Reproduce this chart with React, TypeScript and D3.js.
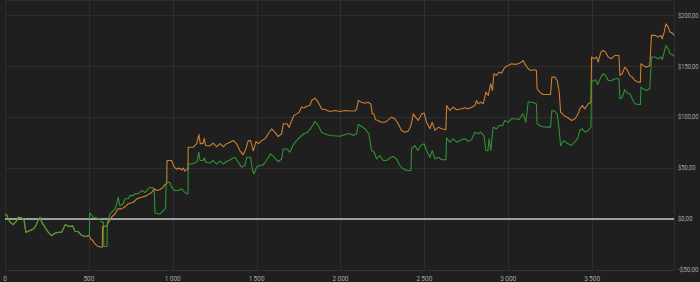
import React from "react";
import * as d3 from "d3";

// Shared start (both series identical)
const sharedSteps = [0, 10, 20, 30, 49, 70, 79, 100, 113, 125, 149, 169, 185, 198, 209, 219, 238, 258, 278, 298, 318, 338, 358, 387, 404, 417, 437, 457, 483, 502];
const sharedValues = [4.4, 4, 0, -3, -5.4, -1.5, 1.8, 1.2, -0.8, -13, -11.3, -9.7, -6.4, -0.8, 1.8, -3, -8, -13, -16.2, -14, -13, -13, -5.7, -7.4, -6.7, -12, -12.3, -16.2, -17.2, -16.2];

const orangeSteps = [504, 511, 523, 536, 556, 576, 580, 582, 606, 614, 636, 656, 673, 695, 715, 735, 765, 785, 815, 845, 874, 890, 906, 924, 942, 954, 964, 966, 993, 1009, 1023, 1043, 1053, 1063, 1073, 1087, 1091, 1092, 1122, 1143, 1156, 1164, 1180, 1188, 1196, 1222, 1241, 1261, 1281, 1301, 1321, 1341, 1361, 1381, 1401, 1420, 1436, 1450, 1464, 1480, 1496, 1511, 1530, 1550, 1570, 1590, 1609, 1629, 1649, 1659, 1681, 1694, 1709, 1722, 1738, 1754, 1768, 1782, 1802, 1818, 1828, 1848, 1867, 1888, 1907, 1937, 1967, 1997, 2026, 2056, 2086, 2096, 2106, 2126, 2146, 2165, 2181, 2189, 2199, 2209, 2225, 2241, 2265, 2285, 2305, 2324, 2344, 2364, 2384, 2404, 2420, 2434, 2448, 2464, 2484, 2499, 2513, 2533, 2547, 2563, 2583, 2603, 2628, 2633, 2652, 2672, 2692, 2722, 2742, 2761, 2781, 2801, 2811, 2821, 2835, 2851, 2867, 2881, 2895, 2906, 2914, 2930, 2946, 2960, 2974, 2986, 3000, 3020, 3040, 3059, 3079, 3089, 3105, 3119, 3133, 3149, 3168, 3172, 3188, 3208, 3252, 3260, 3278, 3292, 3304, 3312, 3332, 3351, 3378, 3398, 3417, 3427, 3441, 3457, 3477, 3493, 3497, 3512, 3527, 3536, 3552, 3566, 3580, 3596, 3616, 3636, 3660, 3666, 3679, 3695, 3711, 3725, 3739, 3755, 3775, 3788, 3791, 3804, 3824, 3844, 3854, 3874, 3894, 3910, 3918, 3930, 3940, 3954, 3964, 3978, 3990];
const orangeValues = [-17, -19.5, -21, -24.4, -27, -27.7, -27.7, -7, -7, -4, 2, 5, 10, 10, 12, 15, 16.5, 19.8, 21.4, 23, 26, 29.6, 28, 29, 31, 34, 34.6, 57.5, 57.5, 51, 49, 50, 48, 50, 47, 49, 49, 70.5, 70.5, 74, 83, 74, 74, 79, 72, 72, 74.5, 71, 74, 71, 74, 75.5, 77, 74, 67, 63, 69, 77, 77, 67, 76, 74, 77, 78.8, 83.7, 88.6, 85, 81, 83.7, 93.5, 93.5, 90, 96.8, 101.7, 103, 105, 110, 109, 111, 111.5, 116.4, 118.7, 114.7, 108, 107.6, 105.6, 106.6, 105.6, 106.6, 106, 106, 108, 116.4, 114.7, 113.7, 114.7, 113, 103.3, 103.3, 97.4, 96.8, 95, 95, 97.4, 100, 98.4, 93.5, 87, 85.3, 86.3, 91.9, 103.3, 100, 96.8, 103.3, 104, 95, 88.6, 95, 87, 90, 88.6, 87.6, 111.5, 106.6, 109.8, 107.3, 108.3, 109.2, 108.3, 109.8, 111.5, 116.4, 113.2, 114.7, 113.2, 124.6, 121.3, 132.8, 126.2, 142.6, 141, 144.2, 143.2, 147.5, 149.8, 150.8, 152.5, 151.8, 152.5, 154, 155.7, 150.8, 147.5, 145.9, 146.5, 146, 127.9, 124.6, 122.3, 122.3, 139.3, 139.3, 136, 124.6, 104.9, 101.7, 100, 96.8, 98.4, 103.3, 108.2, 111.5, 108.2, 113.2, 114.7, 159, 157.4, 159, 154, 163.8, 165.5, 163.8, 159, 157.4, 160.6, 160.6, 141, 142.6, 149.1, 145.9, 141, 139.3, 136, 134.4, 134.4, 152.5, 150.8, 149.1, 150.8, 180.3, 180.3, 178.6, 180.3, 177, 183.5, 191.7, 188.4, 183.5, 182.5, 180.3];

const greenSteps = [503, 505, 526, 566, 576, 587, 589, 608, 610, 626, 656, 666, 675, 685, 705, 715, 735, 745, 765, 775, 795, 815, 834, 854, 864, 884, 890, 894, 924, 948, 957, 961, 983, 993, 1013, 1033, 1053, 1073, 1083, 1091, 1092, 1113, 1143, 1156, 1162, 1180, 1188, 1196, 1222, 1241, 1261, 1281, 1301, 1321, 1341, 1361, 1371, 1391, 1411, 1430, 1441, 1464, 1476, 1484, 1500, 1520, 1539, 1559, 1583, 1603, 1629, 1649, 1659, 1681, 1699, 1718, 1738, 1758, 1782, 1802, 1818, 1834, 1848, 1867, 1888, 1907, 1937, 1997, 2026, 2040, 2056, 2076, 2096, 2106, 2126, 2146, 2169, 2185, 2201, 2215, 2235, 2255, 2275, 2295, 2314, 2334, 2354, 2374, 2394, 2420, 2424, 2444, 2460, 2479, 2499, 2513, 2533, 2547, 2563, 2583, 2603, 2628, 2633, 2652, 2672, 2692, 2722, 2742, 2761, 2781, 2801, 2821, 2835, 2855, 2867, 2879, 2886, 2896, 2910, 2930, 2946, 2966, 2980, 3000, 3020, 3046, 3065, 3079, 3089, 3105, 3119, 3153, 3168, 3172, 3198, 3228, 3252, 3260, 3278, 3292, 3304, 3312, 3332, 3351, 3378, 3398, 3413, 3427, 3441, 3457, 3477, 3493, 3497, 3506, 3521, 3533, 3552, 3566, 3580, 3596, 3616, 3636, 3660, 3666, 3679, 3695, 3711, 3725, 3739, 3755, 3775, 3788, 3791, 3804, 3824, 3844, 3854, 3874, 3894, 3910, 3918, 3930, 3940, 3954, 3964, 3978, 3990];
const greenValues = [-16.2, 6, 1.8, 0.2, -3, -3, -27, -27, -3, 5, 10, 15, 21.3, 13, 15, 20, 20, 23, 23, 25, 25, 28, 26, 29.6, 31, 30.6, 28, 6, 5, 9, 11, 36, 36, 31, 28, 28, 29.6, 26, 24.8, 25, 54, 54, 56, 65.6, 57.5, 57.5, 60, 56, 55, 57.5, 54, 56.8, 54, 56.5, 58, 60, 60.7, 55.8, 51, 52.5, 60.7, 60.7, 47.6, 44.4, 51, 52.5, 53.2, 57.5, 64, 60.7, 56.5, 59, 68.8, 68.8, 65.6, 72.9, 77, 80.3, 83.7, 85, 88, 91.8, 95.8, 91.8, 85, 83.7, 82, 81.3, 82.7, 83.7, 83.7, 82, 83.7, 92.8, 90.9, 88.6, 83.7, 67.3, 65.6, 59, 62.4, 57.5, 57.5, 60.1, 61.4, 59, 52.5, 49.3, 47.6, 47.6, 69, 72.2, 67.3, 72.2, 73.9, 67.3, 60.7, 67.3, 59, 60.7, 58.2, 58.2, 79.8, 75.4, 78.8, 75.4, 77.8, 78.8, 76.4, 77.8, 85.3, 83.7, 85.3, 82, 67.3, 67.3, 78.8, 67.3, 90.2, 88.6, 91.8, 91.8, 96.8, 95, 98.4, 98.4, 97.4, 101.7, 103.3, 95, 115.1, 114.1, 113, 93.5, 90.9, 90.2, 90.2, 106.6, 105.9, 103.3, 87, 72.2, 77, 74.5, 72.2, 76, 79, 86.9, 88.6, 85.3, 86.9, 90.2, 136, 135.4, 136.7, 132.1, 139.3, 142.6, 141, 136, 136, 137.7, 137.7, 118.1, 119.6, 126.9, 123.6, 123, 118.1, 113.2, 112.5, 112.5, 129.5, 127.9, 126.2, 127.9, 159, 159, 157.4, 159, 156.4, 163.8, 170.4, 167.1, 162.2, 161.6, 159.6];

const xTicks = [0, 500, 1000, 1500, 2000, 2500, 3000, 3500];
const yTicks = [-50, 0, 50, 100, 150, 200];

const W = 700;
const H = 282;

export default function App() {
  const x = d3.scaleLinear().domain([0, 3990]).range([5, 674.3]);
  const y = d3.scaleLinear().domain([-50, 200]).range([270, 15.3]);

  const mk = (steps: number[], vals: number[]) =>
    sharedSteps.map((s, i) => [s, sharedValues[i]] as [number, number]).concat(
      steps.map((s, i) => [s, vals[i]] as [number, number])
    );
  const orange = mk(orangeSteps, orangeValues);
  const green = mk(greenSteps, greenValues);

  const line = d3
    .line<[number, number]>()
    .x((d) => x(d[0]))
    .y((d) => y(d[1]));

  const fmtX = (v: number) => d3.format(",")(v).replace(/,/g, "\u2009");
  const fmtY = (v: number) =>
    (v < 0 ? "-$" : "$") + Math.abs(v).toFixed(2).replace(".", ",");

  const left = 5;
  const right = 674;
  const top = 0.5;
  const bottom = 270;
  const fontFamily = "Roboto, 'Noto Sans', sans-serif";

  return (
    <svg
      width={W}
      height={H}
      style={{ position: "fixed", left: 0, top: 0, display: "block" }}
    >
      <rect x={0} y={0} width={W} height={H} fill="#1f1f1f" />
      {/* vertical grid */}
      {xTicks.map((t) => (
        <line
          key={"vx" + t}
          x1={Math.round(x(t)) + 0.5}
          x2={Math.round(x(t)) + 0.5}
          y1={top}
          y2={bottom}
          stroke="#2e2e2e"
          strokeWidth={1}
        />
      ))}
      {/* horizontal grid */}
      {yTicks.map((t) => (
        <line
          key={"hy" + t}
          x1={left}
          x2={right}
          y1={Math.round(y(t)) + 0.5}
          y2={Math.round(y(t)) + 0.5}
          stroke="#2e2e2e"
          strokeWidth={1}
        />
      ))}
      <line x1={left} x2={right} y1={top} y2={top} stroke="#2e2e2e" />
      <line x1={right + 0.5} x2={right + 0.5} y1={top} y2={bottom} stroke="#2e2e2e" />
      <line x1={left} x2={right} y1={bottom + 0.5} y2={bottom + 0.5} stroke="#333333" />

      {/* zero line */}
      <line x1={left} x2={right} y1={y(0)} y2={y(0)} stroke="#c8c8c8" strokeWidth={1.5} />

      <path d={line(orange) ?? ""} fill="none" stroke="#cc7f31" strokeWidth={1.1} strokeLinejoin="round" />
      <path d={line(green) ?? ""} fill="none" stroke="#35a435" strokeWidth={1.1} strokeLinejoin="round" strokeOpacity={0.85} />

      {/* x labels */}
      {xTicks.map((t) => (
        <text
          key={"tx" + t}
          x={x(t)}
          y={280.5}
          fontSize={6.5}
          fill="#a8a8a8"
          textAnchor="middle"
          fontFamily={fontFamily}
        >
          {fmtX(t)}
        </text>
      ))}
      {/* y labels */}
      {yTicks.map((t) => {
        const label = fmtY(t);
        return (
          <text
            key={"ty" + t}
            x={678}
            y={y(t)}
            dy="0.35em"
            fontSize={6.5}
            fill="#a8a8a8"
            textAnchor="start"
            fontFamily={fontFamily}
            textLength={label.length * 3 - 0.5}
            lengthAdjust="spacingAndGlyphs"
          >
            {label}
          </text>
        );
      })}
    </svg>
  );
}
